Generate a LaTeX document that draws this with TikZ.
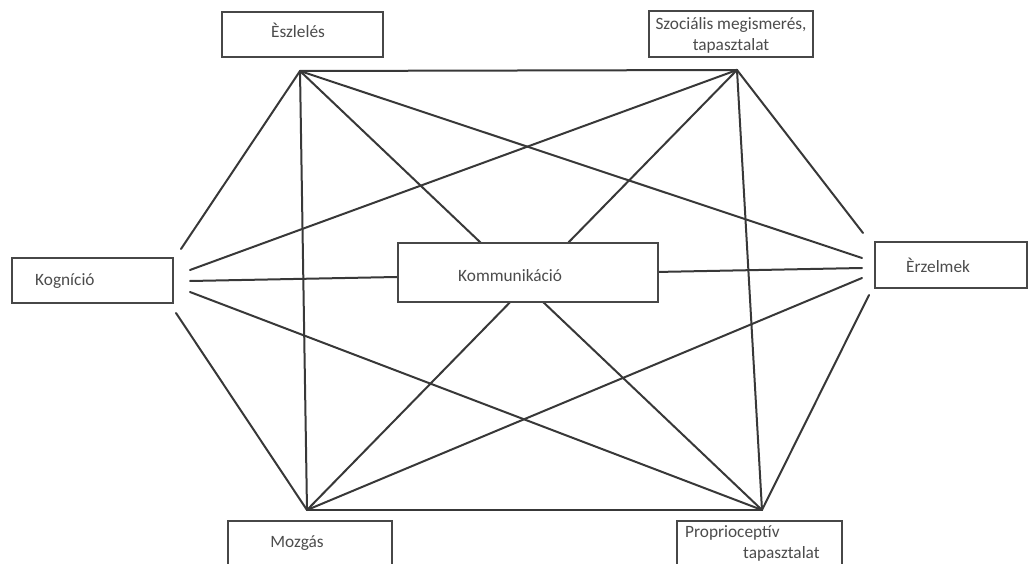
\documentclass[tikz,border=0pt]{standalone}
\usepackage{fontspec}
\setmainfont{Carlito}
\definecolor{linec}{gray}{0.22}
\definecolor{boxc}{gray}{0.28}
\definecolor{txtc}{gray}{0.3}
\begin{document}
\begin{tikzpicture}[x=1pt,y=-1pt,
  edge/.style={draw=linec,line width=2pt,line cap=round},
  box/.style={draw=boxc,line width=2.3pt,fill=white,rectangle,inner sep=0pt},
  lbl/.style={text=txtc,font=\fontsize{17.3}{21}\selectfont,inner sep=0pt}]
\useasboundingbox (0,0) rectangle (1029,564);
\clip (0,0) rectangle (1029,564);
% hubs and free ends
\coordinate (p1) at (300,71);
\coordinate (p2) at (737,70);
\coordinate (p3) at (307,510);
\coordinate (p4) at (762,510);
\coordinate (k1) at (181,249);
\coordinate (k2) at (190,270);
\coordinate (k3) at (190,281);
\coordinate (k4) at (190,292);
\coordinate (k5) at (176,313);
\coordinate (e1) at (863,233);
\coordinate (e2) at (862,258);
\coordinate (e3) at (862,268);
\coordinate (e4) at (862,278);
\coordinate (e5) at (869,295);
% connectors
\draw[edge] (p1) -- (p2);
\draw[edge] (p1) -- (k1);
\draw[edge] (p1) -- (e2);
\draw[edge] (p1) -- (p3);
\draw[edge] (p1) -- (p4);
\draw[edge] (p2) -- (k2);
\draw[edge] (p2) -- (e1);
\draw[edge] (p2) -- (p3);
\draw[edge] (p2) -- (p4);
\draw[edge] (k3) -- (e3);
\draw[edge] (k4) -- (p4);
\draw[edge] (k5) -- (p3);
\draw[edge] (e4) -- (p3);
\draw[edge] (e5) -- (p4);
\draw[edge] (p3) -- (p4);
% boxes
\node[box,minimum width=161pt,minimum height=45pt] (esz) at (302.5,34.5) {};
\node[box,minimum width=164pt,minimum height=46pt] (szoc) at (731,34) {};
\node[box,minimum width=161pt,minimum height=45pt] (kog) at (92.5,280.5) {};
\node[box,minimum width=152pt,minimum height=46pt] (erz) at (951,265) {};
\node[box,minimum width=260pt,minimum height=59pt] (kom) at (528,272.5) {};
\node[box,minimum width=164pt,minimum height=59pt] (moz) at (310,550.5) {};
\node[box,minimum width=165pt,minimum height=59pt] (prop) at (759.5,550.5) {};
% labels
\node[lbl,anchor=base] (eszT) at (298,38) {Èszlelés};
\node[lbl,align=center,anchor=center] (szocT) at (731,35) {Szociális megismerés,\\tapasztalat};
\node[lbl,anchor=base west] (kogT) at (35,286) {Kogníció};
\node[lbl,anchor=base west] (erzT) at (906,273) {Èrzelmek};
\node[lbl,anchor=base west] (komT) at (458,282) {Kommunikáció};
\node[lbl,anchor=base] (mozT) at (297,547) {Mozgás};
\node[lbl,align=left,anchor=north west] (propT) at (685,525) {Proprioceptív\\\hspace*{58pt}tapasztalat};
\end{tikzpicture}
\end{document}
